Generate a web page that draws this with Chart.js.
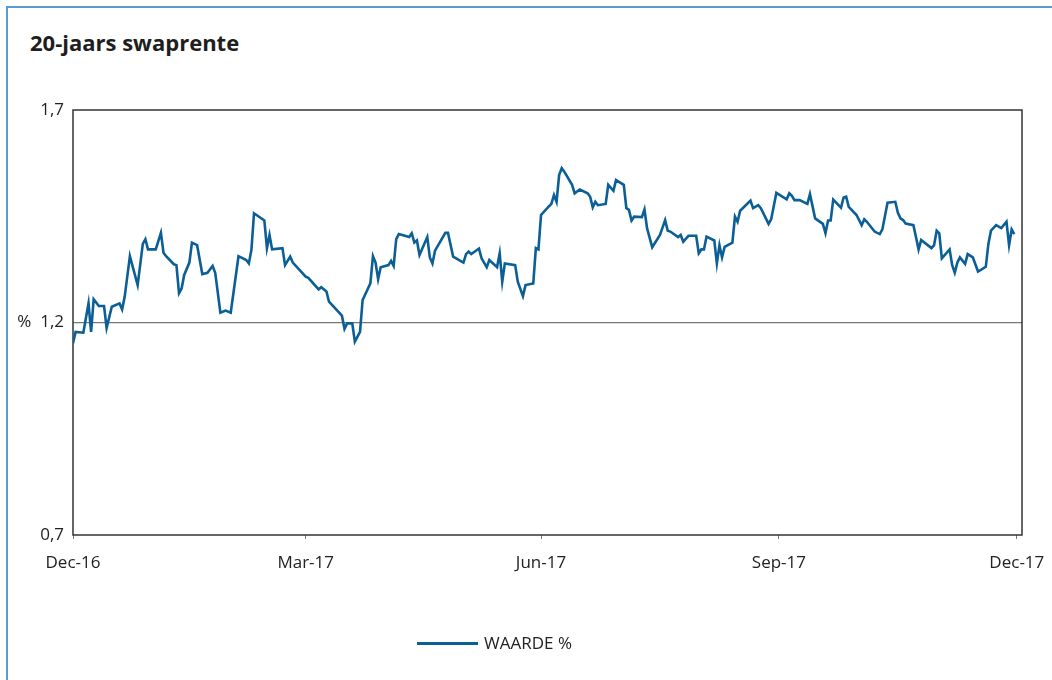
<!DOCTYPE html>
<html lang="nl">
<head>
    <meta charset="UTF-8">
    <title>20-jaars swaprente</title>
    <script src="https://cdn.jsdelivr.net/npm/chart.js"></script>
    <style>
        * { margin: 0; padding: 0; box-sizing: border-box; }

        body {
            width: 1052px;
            height: 680px;
            overflow: hidden;
            background: #fff;
            font-family: 'Open Sans', sans-serif;
            color: #222;
            position: relative;
        }

        .panel {
            position: absolute;
            left: 6px;
            top: 6px;
            width: 1100px;
            height: 720px;
            border-left: 2px solid #5b9bd0;
            border-top: 2px solid #5b9bd0;
        }

        h1 {
            position: absolute;
            left: 30px;
            top: 31px;
            font-size: 22px;
            line-height: 22px;
            font-weight: 700;
            color: #1e1e1e;
        }

        #chart {
            position: absolute;
            left: 0;
            top: 0;
        }

        .legend {
            position: absolute;
            left: 417px;
            top: 634px;
            display: flex;
            align-items: center;
            font-size: 17px;
            line-height: 17px;
        }

        .legend span.line {
            display: inline-block;
            width: 61px;
            height: 3px;
            margin-right: 6px;
            margin-top: 1px;
        }
    </style>
</head>
<body>
<div class="panel"></div>
<h1>20-jaars swaprente</h1>
<canvas id="chart" width="1052" height="680"></canvas>
<div class="legend" id="legend"></div>

<script>
    // dagen sinds 1 dec 2016
    const days = [
        0, 1, 4, 6, 7, 8, 10, 12, 13, 15,
        18, 19, 20, 22, 25, 27, 28, 29, 32, 34,
        35, 36, 39, 40, 41, 42, 43, 45, 46, 48,
        50, 52, 54, 55, 57, 59, 61, 64, 67, 68,
        69, 70, 74, 75, 76, 77, 81, 82, 84, 85,
        90, 91, 95, 96, 98, 99, 104, 105, 106, 108,
        109, 111, 112, 115, 116, 117, 118, 119, 122, 123,
        124, 125, 126, 130, 131, 132, 133, 134, 137, 138,
        139, 140, 144, 145, 147, 151, 152, 153, 154, 157,
        158, 160, 161, 164, 165, 166, 167, 171, 172, 174,
        175, 178, 179, 180, 181, 184, 185, 186, 187, 188,
        189, 190, 193, 194, 196, 199, 200, 201, 202, 203,
        206, 207, 209, 210, 213, 214, 215, 216, 217, 220,
        221, 222, 224, 227, 229, 230, 231, 234, 235, 236,
        238, 241, 242, 243, 244, 245, 248, 249, 250, 251,
        252, 255, 256, 257, 258, 262, 263, 265, 266, 269,
        270, 272, 276, 277, 278, 279, 281, 284, 285, 287,
        290, 291, 292, 293, 294, 297, 298, 299, 300, 303,
        305, 306, 307, 310, 312, 313, 315, 318, 319, 320,
        321, 322, 325, 326, 327, 328, 332, 333, 334, 335,
        336, 339, 340, 341, 342, 343, 345, 346, 348, 350,
        353, 354, 355, 357, 359, 361, 362, 363, 364
    ];

    const waarde = [
        1.151, 1.178, 1.176, 1.245, 1.178, 1.255, 1.239, 1.239, 1.187, 1.237,
        1.245, 1.231, 1.261, 1.356, 1.288, 1.385, 1.396, 1.372, 1.372, 1.411,
        1.364, 1.356, 1.337, 1.335, 1.269, 1.280, 1.312, 1.341, 1.388, 1.382,
        1.314, 1.317, 1.333, 1.317, 1.223, 1.228, 1.223, 1.356, 1.347, 1.339,
        1.371, 1.457, 1.440, 1.375, 1.406, 1.372, 1.375, 1.335, 1.355, 1.341,
        1.308, 1.305, 1.278, 1.283, 1.273, 1.249, 1.216, 1.185, 1.198, 1.198,
        1.155, 1.178, 1.253, 1.292, 1.356, 1.341, 1.302, 1.330, 1.335, 1.345,
        1.333, 1.396, 1.408, 1.401, 1.410, 1.388, 1.393, 1.359, 1.401, 1.353,
        1.339, 1.369, 1.411, 1.411, 1.355, 1.341, 1.361, 1.367, 1.361, 1.374,
        1.351, 1.330, 1.347, 1.330, 1.363, 1.296, 1.339, 1.335, 1.296, 1.262,
        1.288, 1.292, 1.375, 1.372, 1.453, 1.473, 1.479, 1.500, 1.484, 1.547,
        1.563, 1.555, 1.524, 1.504, 1.513, 1.504, 1.496, 1.471, 1.484, 1.476,
        1.479, 1.524, 1.510, 1.535, 1.524, 1.469, 1.465, 1.440, 1.449, 1.448,
        1.466, 1.422, 1.377, 1.406, 1.441, 1.416, 1.414, 1.401, 1.406, 1.390,
        1.404, 1.404, 1.363, 1.372, 1.372, 1.402, 1.393, 1.339, 1.382, 1.353,
        1.378, 1.388, 1.449, 1.437, 1.463, 1.487, 1.469, 1.476, 1.469, 1.432,
        1.443, 1.505, 1.490, 1.504, 1.498, 1.488, 1.488, 1.479, 1.502, 1.445,
        1.432, 1.410, 1.440, 1.440, 1.489, 1.470, 1.494, 1.496, 1.472, 1.453,
        1.429, 1.443, 1.437, 1.414, 1.408, 1.419, 1.482, 1.484, 1.458, 1.445,
        1.441, 1.433, 1.429, 1.401, 1.372, 1.394, 1.375, 1.382, 1.416, 1.410,
        1.351, 1.372, 1.335, 1.317, 1.341, 1.353, 1.338, 1.361, 1.353, 1.320,
        1.331, 1.385, 1.416, 1.429, 1.422, 1.437, 1.382, 1.419, 1.408
    ];

    const xTickDays = [0, 90, 181, 273, 365];
    const xTickLabels = ['Dec-16', 'Mar-17', 'Jun-17', 'Sep-17', 'Dec-17'];
    const yTicks = [0.7, 1.2, 1.7];

    const lijnKleur = '#0b5f96';
    const font = { family: "'Open Sans', sans-serif", size: 17 };

    // kader om het plotgebied
    const kader = {
        id: 'kader',
        beforeDatasetsDraw(chart) {
            const { ctx, chartArea: a } = chart;
            ctx.save();
            ctx.strokeStyle = '#333';
            ctx.lineWidth = 1.5;
            ctx.strokeRect(a.left, a.top, a.right - a.left, a.bottom - a.top);
            ctx.restore();
        }
    };

    function teken() {
        const chart = new Chart(document.getElementById('chart'), {
            type: 'line',
            data: {
                datasets: [{
                    label: 'WAARDE %',
                    data: days.map((d, i) => ({ x: d, y: waarde[i] })),
                    borderColor: lijnKleur,
                    backgroundColor: lijnKleur,
                    borderWidth: 2.6,
                    pointRadius: 0,
                    tension: 0
                }]
            },
            options: {
                responsive: false,
                animation: false,
                layout: { padding: { top: 110, right: 30, bottom: 105, left: 0 } },
                plugins: {
                    legend: { display: false },
                    tooltip: { enabled: false }
                },
                scales: {
                    x: {
                        type: 'linear',
                        min: 0,
                        max: 367,
                        afterBuildTicks: s => { s.ticks = xTickDays.map(v => ({ value: v })); },
                        afterFit: s => {
                            s.height = 40;
                            s.paddingLeft = 0;
                            s.paddingRight = 0;
                        },
                        grid: { drawOnChartArea: false, drawTicks: true, tickLength: 4, color: '#777' },
                        border: { display: false },
                        ticks: {
                            padding: 14,
                            color: '#222',
                            font: font,
                            maxRotation: 0,
                            autoSkip: false,
                            callback: (v, i) => xTickLabels[i]
                        }
                    },
                    y: {
                        min: 0.7,
                        max: 1.7,
                        afterBuildTicks: s => { s.ticks = yTicks.map(v => ({ value: v })); },
                        afterFit: s => { s.width = 73; },
                        grid: {
                            drawTicks: false,
                            lineWidth: 1.3,
                            color: c => (c.tick && c.tick.value === 1.2) ? '#777' : 'rgba(0,0,0,0)'
                        },
                        border: { display: false },
                        ticks: {
                            padding: 9,
                            color: '#222',
                            font: font,
                            callback: v => (v === 1.2 ? '%  ' : '') + v.toFixed(1).replace('.', ',')
                        }
                    }
                }
            },
            plugins: [kader]
        });

        // legenda
        const legend = document.getElementById('legend');
        chart.data.datasets.forEach(ds => {
            legend.innerHTML += '<span class="line" style="background:' + ds.borderColor + '"></span>' +
                '<span>' + ds.label + '</span>';
        });
    }

    document.fonts.load('17px "Open Sans"').then(teken, teken);
</script>
</body>
</html>
